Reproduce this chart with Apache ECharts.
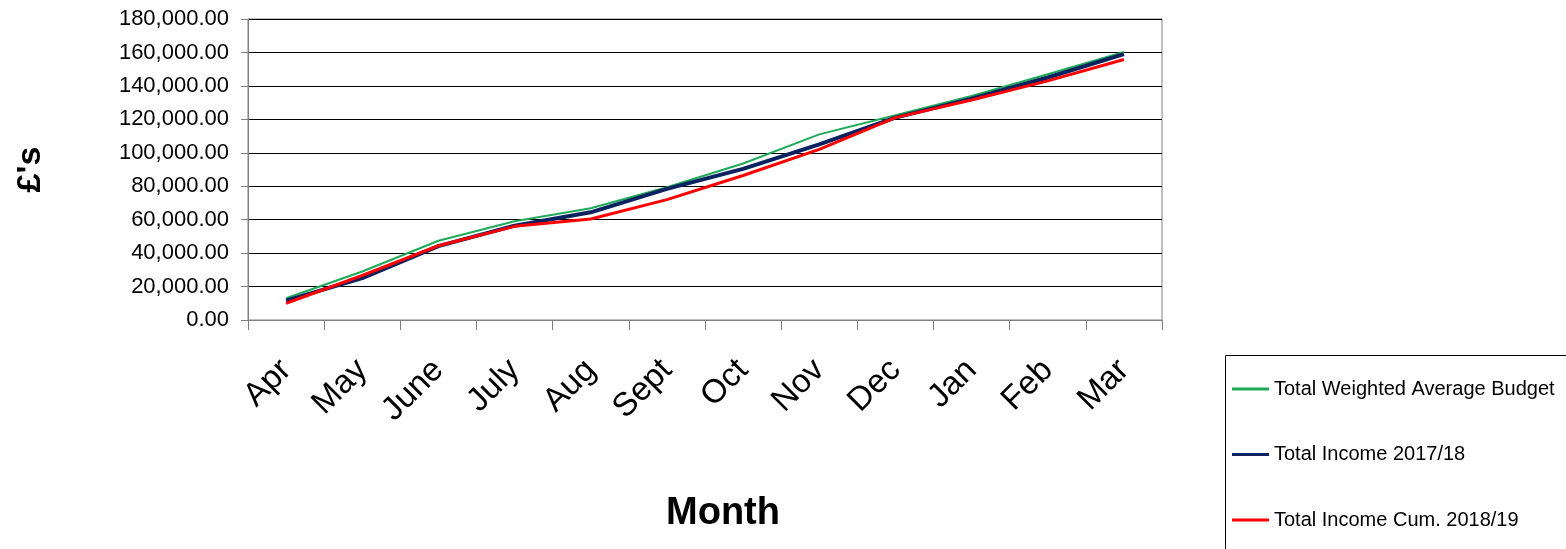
<!DOCTYPE html>
<html>
<head>
<meta charset="utf-8">
<script src="https://cdn.jsdelivr.net/npm/echarts@6/dist/echarts.min.js"></script>
<style>
  html, body { margin: 0; padding: 0; background: #fff; }
  #chart { width: 1566px; height: 549px; }
</style>
</head>
<body>
<div id="chart"></div>
<script>
// Months of the financial year
const months = ['Apr', 'May', 'June', 'July', 'Aug', 'Sept', 'Oct', 'Nov', 'Dec', 'Jan', 'Feb', 'Mar'];

// Cumulative figures in £
const budget = [13000, 29000, 47400, 59000, 66800, 79400, 93600, 111000, 122400, 134000, 147000, 160300];
const income1718 = [11600, 25000, 44200, 56400, 64400, 78400, 90400, 105000, 121000, 132400, 145000, 159000];
const income1819 = [10000, 26600, 44400, 56000, 60400, 72000, 86400, 102000, 121000, 131600, 143000, 155800];

const seriesNames = ['Total Weighted Average Budget', 'Total Income 2017/18', 'Total Income Cum. 2018/19'];
const seriesColors = ['#1faa58', '#0a2260', '#ff0000'];
const seriesWidths = [2, 4, 3];

const FONT = '"Liberation Sans", Arial, sans-serif';

const fmt = v => v.toLocaleString('en-GB', { minimumFractionDigits: 2, maximumFractionDigits: 2 });

const chart = echarts.init(document.getElementById('chart'), null, { renderer: 'canvas' });

chart.setOption({
  backgroundColor: '#ffffff',
  animation: false,
  grid: {
    left: 248, right: 404, top: 19, bottom: 229,
    show: true, borderColor: '#808080', borderWidth: 1, backgroundColor: 'transparent'
  },
  // legend frame, open past the right and bottom edges
  graphic: [{
    type: 'rect',
    x: 1225, y: 355,
    shape: { x: 0.5, y: 0.5, width: 400, height: 300 },
    style: { fill: 'none', stroke: '#000', lineWidth: 1 },
    silent: true, z: 0
  }],
  legend: {
    orient: 'vertical',
    left: 1225, top: 355,
    padding: [24, 4, 4, 7],
    itemWidth: 37, itemHeight: 3, itemGap: 45.5,
    icon: 'rect',
    textStyle: { fontFamily: FONT, fontSize: 20, color: '#000', lineHeight: 20, height: 20 },
    data: seriesNames
  },
  xAxis: {
    type: 'category',
    data: months,
    boundaryGap: true,
    name: 'Month',
    nameLocation: 'middle',
    nameGap: 175,
    nameTextStyle: { fontFamily: FONT, fontSize: 38, fontWeight: 'bold', color: '#000', padding: [0, 0, 0, 36] },
    axisLine: { lineStyle: { color: '#808080', width: 1 } },
    axisTick: { show: true, length: 10, alignWithLabel: false, lineStyle: { color: '#808080' } },
    axisLabel: { rotate: 45, margin: 45, fontFamily: FONT, fontSize: 33, color: '#000', interval: 0 },
    splitLine: { show: false }
  },
  yAxis: {
    type: 'value',
    min: 0, max: 180000, interval: 20000,
    name: "£'s",
    nameLocation: 'middle',
    nameGap: 200,
    nameRotate: 90,
    nameTextStyle: { fontFamily: FONT, fontSize: 34, fontWeight: 'bold', color: '#000' },
    axisLine: { show: true, lineStyle: { color: '#808080', width: 1 } },
    axisTick: { show: true, length: 7, lineStyle: { color: '#808080' } },
    axisLabel: { margin: 19, fontFamily: FONT, fontSize: 22, color: '#000', formatter: fmt },
    splitLine: { show: true, lineStyle: { color: '#000', width: 1 } }
  },
  series: [budget, income1718, income1819].map((values, i) => ({
    name: seriesNames[i],
    type: 'line',
    data: values,
    symbol: 'none',
    smooth: false,
    lineStyle: { color: seriesColors[i], width: seriesWidths[i] },
    itemStyle: { color: seriesColors[i] }
  }))
});
</script>
</body>
</html>
